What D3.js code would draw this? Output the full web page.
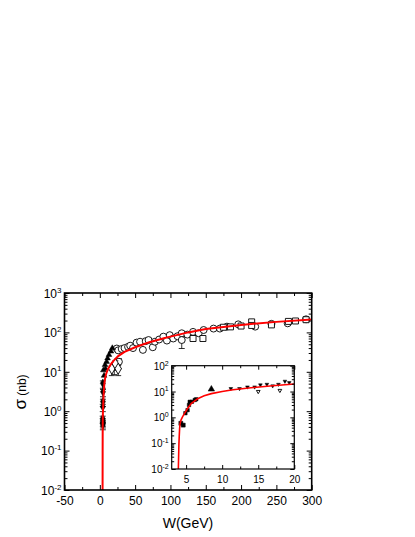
<!DOCTYPE html>
<html><head><meta charset="utf-8">
<script src="https://cdn.jsdelivr.net/npm/d3@7"></script>
<style>body{margin:0;background:#fff}svg{display:block}text{font-family:"Liberation Sans",Arial,sans-serif;fill:#000}</style>
</head><body>
<svg id="c" width="415" height="537"></svg>
<script>
// ---- data ----
const curveW = [3.92,4.0,4.05,4.1,4.15,4.3,4.5,4.8,5.2,5.7,6.6,7.5,8.5,10,11.5,14,17,20,26,35,50,70,92,100,125,150,200,250,300];
const curveS = [0.01,0.09,0.2,0.38,0.55,0.8,1.05,1.45,2.2,3.4,5.3,6.8,8.3,10,11.8,14,16.8,19.5,25,32,42,56,72,78,100,122,155,185,212];

const circW = [20.5,24,26,27,31,35,40,43,47,52,57,61,65,69,75,78,84,90,95,99,104,110,116,116,124,132,140,147,161,170,180,196,220,243,266,292];
const circS = [13.5,39,35,18,38,40,43,46,40,55,58,36,60,64,42,58,66,78,62,85,70,80,95,64,88,103,95,115,125,125,140,160,140,165,170,215];
const circE = [5,0,0,6,0,0,0,0,0,0,0,0,0,0,0,0,0,0,0,0,0,0,0,25,0,0,0,0,0,0,0,0,0,0,0,0];

const sqW = [132,146,175,185,200,215,215,243,267,277,292];
const sqS = [70,70,135,138,145,185,150,155,190,195,210];
const sqE = [0,0,0,0,0,30,0,0,0,0,0];

const diaW = [17,22,26];
const diaS = [12,16,12];
const diaE = [4,5,4];

const upW = [5,6,7.4,8,9.7,11,13,15.8,17.7];
const upS = [11,8,15,12,18,22,27,33,40];

const fillW = [4.3,4.5,4.4,4.2,4.1,4.3,4.3,4.4];
const fillS = [5.1,3.1,1.75,1.3,0.65,0.55,0.45,0.5];

// inset data
const inSqW = [4.27,4.6];
const inSqS = [0.59,0.5];
const inSmW = [4.9,5.2,5.4,5.5,5.8,6.2,6.4];
const inSmS = [1.45,1.9,3,4,4,4.7,5];
const inUpW = [8.5];
const inUpS = [12.3];
const inDnW = [11.2,12.4,13.5,14.5,15.3,16.2,17,17.8,18.7,19.3];
const inDnS = [13,13,15,15,18,19,16.5,19,25,22];
const inOpW = [15,18];
const inOpS = [10,11];

const xTicksMain = [-50,0,50,100,150,200,250,300];
const yExpMain = [-2,-1,0,1,2,3];
const xTicksIn = [5,10,15,20];
const yExpIn = [-2,-1,0,1,2];

// ---- drawing ----
const svg = d3.select("#c");
const x = d3.scaleLinear([-50,300],[64.5,311.7]);
const y = d3.scaleLog([0.01,1000],[490,293]);
const xi = d3.scaleLinear([3,20],[171.7,294.3]);
const yi = d3.scaleLog([0.01,100],[469,365.7]);

function minors(e0,e1){const r=[];for(let e=e0;e<e1;e++)for(let k=2;k<=9;k++)r.push(k*Math.pow(10,e));return r;}

function frame(g, xs, ys, xt, xMinor, yExp, fs, sfs, lw, maj, mn){
  const [x0,x1]=xs.range(), [y0,y1]=ys.range();
  const bot = g.append("g").attr("transform",`translate(0,${y0})`)
    .call(d3.axisBottom(xs).tickValues(xt).tickSizeInner(-maj).tickSizeOuter(0).tickPadding(4).tickFormat(d=>String(d)));
  bot.select(".domain").remove();
  bot.selectAll("text").attr("font-size",fs).attr("dy","0.95em").style("font-family","Liberation Sans, Arial");
  g.append("g").attr("transform",`translate(0,${y0})`)
    .call(d3.axisBottom(xs).tickValues(xMinor).tickSizeInner(-mn).tickSizeOuter(0).tickFormat(""))
    .select(".domain").remove();
  const top = g.append("g").attr("transform",`translate(0,${y1})`)
    .call(d3.axisTop(xs).tickValues(xt).tickSizeInner(-maj).tickSizeOuter(0).tickFormat(""));
  top.select(".domain").remove();
  g.append("g").attr("transform",`translate(0,${y1})`)
    .call(d3.axisTop(xs).tickValues(xMinor).tickSizeInner(-mn).tickSizeOuter(0).tickFormat(""))
    .select(".domain").remove();
  const yv = yExp.map(e=>Math.pow(10,e));
  const ym = minors(yExp[0], yExp[yExp.length-1]);
  const left = g.append("g").attr("transform",`translate(${x0},0)`)
    .call(d3.axisLeft(ys).tickValues(yv).tickSizeInner(-maj).tickSizeOuter(0).tickPadding(3).tickFormat(""));
  left.select(".domain").remove();
  left.selectAll(".tick").append("text").attr("x",-3).attr("dy","0.35em").attr("text-anchor","end").attr("font-size",fs)
    .each(function(d){const t=d3.select(this);t.append("tspan").text("10");
      t.append("tspan").attr("dy",-fs*0.42).attr("font-size",sfs).text(Math.round(Math.log10(d)));});
  g.append("g").attr("transform",`translate(${x0},0)`)
    .call(d3.axisLeft(ys).tickValues(ym).tickSizeInner(-mn).tickSizeOuter(0).tickFormat(""))
    .select(".domain").remove();
  const right = g.append("g").attr("transform",`translate(${x1},0)`)
    .call(d3.axisRight(ys).tickValues(yv).tickSizeInner(-maj).tickSizeOuter(0).tickFormat(""));
  right.select(".domain").remove();
  g.append("g").attr("transform",`translate(${x1},0)`)
    .call(d3.axisRight(ys).tickValues(ym).tickSizeInner(-mn).tickSizeOuter(0).tickFormat(""))
    .select(".domain").remove();
  g.selectAll(".tick line").attr("stroke","#000").attr("stroke-width",1);
  g.append("rect").attr("x",x0).attr("y",y1).attr("width",x1-x0).attr("height",y0-y1)
    .attr("fill","none").attr("stroke","#000").attr("stroke-width",lw);
}

function symbols(g, xs, ys, W, S, type, size, fill, E){
  const sym = d3.symbol().type(type).size(size);
  if(E){
    W.forEach((w,i)=>{ if(!E[i]) return;
      const cx=xs(w), yt=ys(S[i]+E[i]*0.6), yb=ys(Math.max(S[i]-E[i],0.011));
      g.append("line").attr("x1",cx).attr("x2",cx).attr("y1",yt).attr("y2",yb).attr("stroke","#000").attr("stroke-width",0.8);
      [yt,yb].forEach(yy=>g.append("line").attr("x1",cx-3).attr("x2",cx+3).attr("y1",yy).attr("y2",yy).attr("stroke","#000").attr("stroke-width",0.8));
    });
  }
  g.selectAll(null).data(W.map((w,i)=>[w,S[i]])).join("path")
    .attr("d",sym).attr("transform",d=>`translate(${xs(d[0])},${ys(d[1])})`)
    .attr("fill",fill?"#000":"#fff").attr("stroke","#000").attr("stroke-width",fill?0.5:0.9);
}

const tri = d3.symbolTriangle;
const triDown = {draw(ctx,size){const s=Math.sqrt(size/(3*Math.sqrt(3)/4)); const h=s*Math.sqrt(3)/2;
  ctx.moveTo(-s/2,-h/3);ctx.lineTo(s/2,-h/3);ctx.lineTo(0,2*h/3);ctx.closePath();}};

// main
const gm = svg.append("g");
svg.append("clipPath").attr("id","cm").append("rect").attr("x",64.5).attr("y",293).attr("width",247.2).attr("height",197);
const pm = gm.append("g");
symbols(pm,x,y,circW,circS,d3.symbolCircle,38,false,circE);
symbols(pm,x,y,sqW,sqS,d3.symbolSquare,36,false,sqE);
symbols(pm,x,y,diaW,diaS,d3.symbolDiamond,36,false,diaE);
symbols(pm,x,y,upW,upS,tri,14,true);
symbols(pm,x,y,fillW,fillS,d3.symbolDiamond,22,true,fillS.map(v=>v*0.25));
const line = d3.line().x(d=>x(d[0])).y(d=>y(d[1]));
gm.append("path").attr("clip-path","url(#cm)").attr("d",line(curveW.map((w,i)=>[w,curveS[i]])))
  .attr("fill","none").attr("stroke","#f00").attr("stroke-width",2);
frame(gm,x,y,xTicksMain,d3.range(-25,300,50),yExpMain,12,8,1.6,5,3);

// inset
const gi = svg.append("g");
gi.append("rect").attr("x",171.7).attr("y",365.7).attr("width",122.6).attr("height",103.3).attr("fill","#fff");
svg.append("clipPath").attr("id","ci").append("rect").attr("x",171.7).attr("y",365.7).attr("width",122.6).attr("height",103.3);
const pi = gi.append("g");
symbols(pi,xi,yi,inSqW,inSqS,d3.symbolSquare,16,true);
symbols(pi,xi,yi,inSmW,inSmS,d3.symbolSquare,12,true);
symbols(pi,xi,yi,inUpW,inUpS,tri,18,true);
symbols(pi,xi,yi,inDnW,inDnS,triDown,18,true);
symbols(pi,xi,yi,inOpW,inOpS,triDown,18,false);
const linei = d3.line().x(d=>xi(d[0])).y(d=>yi(d[1]));
gi.append("path").attr("clip-path","url(#ci)").attr("d",linei(curveW.map((w,i)=>[w,curveS[i]])))
  .attr("fill","none").attr("stroke","#f00").attr("stroke-width",1.6);
frame(gi,xi,yi,xTicksIn,[7.5,12.5,17.5],yExpIn,10,7,1.2,4,2.5);

// titles
svg.append("text").attr("x",188).attr("y",528).attr("text-anchor","middle").attr("font-size",14).text("W(GeV)");
const yt = svg.append("text").attr("transform","translate(26,392) rotate(-90)").attr("text-anchor","middle");
yt.append("tspan").attr("font-size",17).text("σ");
yt.append("tspan").attr("font-size",12).text(" (nb)");
</script>
</body></html>
